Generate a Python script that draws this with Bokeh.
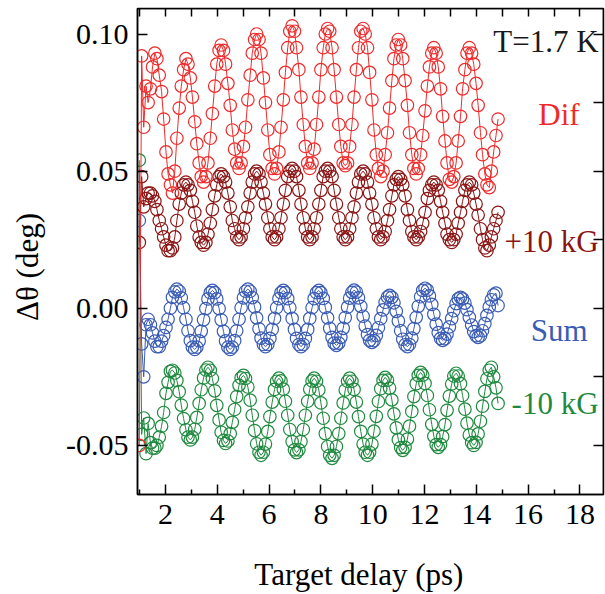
from bokeh.plotting import figure
from bokeh.models import Range1d, LinearAxis, FixedTicker, PrintfTickFormatter, Label
from bokeh.embed import file_html
from bokeh.resources import INLINE

# ---------------- data ----------------
delay = [
    0.99, 1.08, 1.16, 1.25, 1.33, 1.42, 1.50, 1.59, 1.67, 1.76, 1.85, 1.93, 2.02, 2.10, 2.19, 2.27,
    2.36, 2.44, 2.53, 2.61, 2.70, 2.79, 2.87, 2.96, 3.04, 3.13, 3.21, 3.30, 3.38, 3.47, 3.56, 3.64,
    3.73, 3.81, 3.90, 3.98, 4.07, 4.15, 4.24, 4.32, 4.41, 4.50, 4.58, 4.67, 4.75, 4.84, 4.92, 5.01,
    5.09, 5.18, 5.27, 5.35, 5.44, 5.52, 5.61, 5.69, 5.78, 5.86, 5.95, 6.03, 6.12, 6.21, 6.29, 6.38,
    6.46, 6.55, 6.63, 6.72, 6.80, 6.89, 6.98, 7.06, 7.15, 7.23, 7.32, 7.40, 7.49, 7.57, 7.66, 7.74,
    7.83, 7.92, 8.00, 8.09, 8.17, 8.26, 8.34, 8.43, 8.51, 8.60, 8.69, 8.77, 8.86, 8.94, 9.03, 9.11,
    9.20, 9.28, 9.37, 9.45, 9.54, 9.63, 9.71, 9.80, 9.88, 9.97, 10.05, 10.14, 10.22, 10.31, 10.40, 10.48,
    10.57, 10.65, 10.74, 10.82, 10.91, 10.99, 11.08, 11.16, 11.25, 11.34, 11.42, 11.51, 11.59, 11.68, 11.76, 11.85,
    11.93, 12.02, 12.11, 12.19, 12.28, 12.36, 12.45, 12.53, 12.62, 12.70, 12.79, 12.87, 12.96, 13.05, 13.13, 13.22,
    13.30, 13.39, 13.47, 13.56, 13.64, 13.73, 13.82, 13.90, 13.99, 14.07, 14.16, 14.24, 14.33, 14.41, 14.50, 14.58,
    14.67, 14.76, 14.84,
]

dif = [
    -0.050, 0.092, 0.066, 0.081, 0.075, 0.080, 0.088, 0.093, 0.091, 0.085, 0.079, 0.069, 0.057, 0.049, 0.045, 0.042,
    0.050, 0.062, 0.073, 0.081, 0.087, 0.091, 0.089, 0.084, 0.077, 0.068, 0.060, 0.053, 0.048, 0.046, 0.048, 0.053,
    0.062, 0.071, 0.081, 0.089, 0.094, 0.096, 0.094, 0.089, 0.082, 0.074, 0.065, 0.058, 0.053, 0.051, 0.053, 0.059,
    0.066, 0.076, 0.085, 0.093, 0.098, 0.100, 0.098, 0.093, 0.084, 0.075, 0.065, 0.056, 0.051, 0.049, 0.051, 0.057,
    0.066, 0.076, 0.086, 0.095, 0.101, 0.103, 0.101, 0.095, 0.087, 0.077, 0.067, 0.059, 0.053, 0.051, 0.053, 0.058,
    0.067, 0.077, 0.087, 0.095, 0.100, 0.102, 0.101, 0.095, 0.087, 0.077, 0.067, 0.059, 0.053, 0.052, 0.053, 0.059,
    0.067, 0.077, 0.087, 0.095, 0.101, 0.102, 0.100, 0.095, 0.086, 0.076, 0.065, 0.056, 0.051, 0.048, 0.050, 0.056,
    0.064, 0.073, 0.083, 0.091, 0.096, 0.098, 0.096, 0.091, 0.083, 0.074, 0.064, 0.056, 0.051, 0.049, 0.051, 0.056,
    0.063, 0.072, 0.081, 0.088, 0.093, 0.095, 0.093, 0.088, 0.080, 0.070, 0.061, 0.053, 0.047, 0.046, 0.048, 0.053,
    0.061, 0.070, 0.080, 0.087, 0.093, 0.095, 0.093, 0.089, 0.082, 0.074, 0.064, 0.056, 0.049, 0.045, 0.044, 0.050,
    0.057, 0.063, 0.069,
]

plus10 = [
    0.024, 0.048, 0.037, 0.040, 0.042, 0.042, 0.041, 0.039, 0.036, 0.032, 0.029, 0.026, 0.023, 0.021, 0.021, 0.022,
    0.026, 0.032, 0.038, 0.042, 0.045, 0.046, 0.045, 0.043, 0.039, 0.035, 0.030, 0.026, 0.024, 0.023, 0.024, 0.027,
    0.031, 0.036, 0.041, 0.045, 0.048, 0.049, 0.048, 0.046, 0.042, 0.037, 0.032, 0.029, 0.026, 0.025, 0.026, 0.029,
    0.033, 0.037, 0.042, 0.046, 0.049, 0.050, 0.049, 0.046, 0.042, 0.038, 0.033, 0.029, 0.026, 0.025, 0.026, 0.029,
    0.033, 0.038, 0.043, 0.048, 0.050, 0.051, 0.050, 0.048, 0.043, 0.038, 0.033, 0.029, 0.026, 0.025, 0.026, 0.029,
    0.033, 0.038, 0.043, 0.048, 0.050, 0.051, 0.050, 0.048, 0.043, 0.038, 0.033, 0.029, 0.026, 0.025, 0.026, 0.029,
    0.033, 0.037, 0.042, 0.046, 0.049, 0.050, 0.049, 0.046, 0.042, 0.038, 0.033, 0.029, 0.026, 0.025, 0.026, 0.028,
    0.032, 0.036, 0.041, 0.045, 0.047, 0.048, 0.047, 0.045, 0.041, 0.036, 0.032, 0.028, 0.026, 0.025, 0.026, 0.028,
    0.031, 0.035, 0.040, 0.043, 0.045, 0.046, 0.045, 0.043, 0.039, 0.035, 0.031, 0.027, 0.025, 0.024, 0.025, 0.027,
    0.031, 0.035, 0.039, 0.043, 0.045, 0.046, 0.045, 0.042, 0.038, 0.034, 0.029, 0.025, 0.022, 0.021, 0.023, 0.026,
    0.029, 0.032, 0.035,
]

sum_ = [
    0.0320, -0.0130, -0.0250, -0.0060, -0.0040, -0.0060, -0.0090, -0.0120, -0.0140, -0.0140, -0.0120, -0.0100, -0.0070, -0.0040, 0.0000, 0.0040,
    0.0060, 0.0070, 0.0062, 0.0038, 0.0002, -0.0040, -0.0082, -0.0118, -0.0142, -0.0150, -0.0142, -0.0119, -0.0084, -0.0042, -0.0001, 0.0034,
    0.0057, 0.0065, 0.0057, 0.0034, -0.0001, -0.0042, -0.0084, -0.0119, -0.0142, -0.0150, -0.0142, -0.0118, -0.0082, -0.0040, 0.0002, 0.0038,
    0.0062, 0.0070, 0.0062, 0.0039, 0.0005, -0.0035, -0.0075, -0.0109, -0.0132, -0.0140, -0.0132, -0.0110, -0.0077, -0.0037, 0.0002, 0.0035,
    0.0057, 0.0065, 0.0057, 0.0035, 0.0002, -0.0037, -0.0077, -0.0110, -0.0132, -0.0140, -0.0132, -0.0110, -0.0077, -0.0037, 0.0002, 0.0035,
    0.0057, 0.0065, 0.0057, 0.0036, 0.0003, -0.0035, -0.0073, -0.0106, -0.0127, -0.0135, -0.0127, -0.0106, -0.0073, -0.0034, 0.0004, 0.0037,
    0.0058, 0.0066, 0.0059, 0.0038, 0.0007, -0.0029, -0.0065, -0.0096, -0.0117, -0.0124, -0.0118, -0.0099, -0.0071, -0.0038, -0.0006, 0.0022,
    0.0041, 0.0047, 0.0040, 0.0020, -0.0011, -0.0046, -0.0082, -0.0113, -0.0133, -0.0140, -0.0132, -0.0109, -0.0074, -0.0033, 0.0007, 0.0042,
    0.0065, 0.0073, 0.0066, 0.0045, 0.0014, -0.0022, -0.0058, -0.0089, -0.0110, -0.0117, -0.0111, -0.0094, -0.0068, -0.0038, -0.0009, 0.0017,
    0.0034, 0.0040, 0.0034, 0.0019, -0.0005, -0.0033, -0.0061, -0.0085, -0.0100, -0.0106, -0.0100, -0.0082, -0.0056, -0.0026, 0.0005, 0.0031,
    0.0049, 0.0055, 0.0010,
]

minus10 = [
    0.0540, -0.0460, -0.0400, -0.0530, -0.0420, -0.0490, -0.0510, -0.0510, -0.0500, -0.0470, -0.0430, -0.0380, -0.0310, -0.0270, -0.0230, -0.0226,
    -0.0236, -0.0263, -0.0304, -0.0353, -0.0402, -0.0443, -0.0470, -0.0480, -0.0470, -0.0441, -0.0398, -0.0347, -0.0297, -0.0254, -0.0225, -0.0215,
    -0.0226, -0.0256, -0.0301, -0.0354, -0.0407, -0.0452, -0.0482, -0.0493, -0.0484, -0.0457, -0.0416, -0.0369, -0.0322, -0.0281, -0.0254, -0.0245,
    -0.0256, -0.0287, -0.0335, -0.0390, -0.0446, -0.0494, -0.0525, -0.0536, -0.0525, -0.0495, -0.0449, -0.0395, -0.0342, -0.0296, -0.0266, -0.0255,
    -0.0265, -0.0295, -0.0339, -0.0390, -0.0442, -0.0486, -0.0516, -0.0526, -0.0516, -0.0486, -0.0442, -0.0390, -0.0339, -0.0295, -0.0265, -0.0255,
    -0.0266, -0.0298, -0.0345, -0.0401, -0.0457, -0.0504, -0.0536, -0.0547, -0.0536, -0.0504, -0.0457, -0.0401, -0.0345, -0.0298, -0.0266, -0.0255,
    -0.0266, -0.0296, -0.0342, -0.0395, -0.0449, -0.0495, -0.0525, -0.0536, -0.0525, -0.0495, -0.0448, -0.0394, -0.0340, -0.0293, -0.0263, -0.0252,
    -0.0262, -0.0291, -0.0334, -0.0385, -0.0436, -0.0479, -0.0508, -0.0518, -0.0507, -0.0477, -0.0430, -0.0376, -0.0322, -0.0275, -0.0245, -0.0234,
    -0.0244, -0.0274, -0.0318, -0.0370, -0.0423, -0.0467, -0.0497, -0.0507, -0.0497, -0.0468, -0.0424, -0.0372, -0.0320, -0.0276, -0.0247, -0.0237,
    -0.0247, -0.0275, -0.0318, -0.0368, -0.0419, -0.0462, -0.0490, -0.0500, -0.0489, -0.0458, -0.0412, -0.0357, -0.0303, -0.0257, -0.0226, -0.0215,
    -0.0250, -0.0290, -0.0347,
]

x_major = [2, 4, 6, 8, 10, 12, 14, 16, 18]
x_minor = [1, 3, 5, 7, 9, 11, 13, 15, 17]
x_top = [1, 2, 3, 4, 5, 6, 7, 8, 9, 10, 11, 12, 13, 14, 15, 16, 17, 18]
y_left = [-0.05, 0.0, 0.05, 0.10]
y_right = [-0.05, -0.025, 0.0, 0.025, 0.05, 0.075, 0.10]

series = [
    ("-10 kG", minus10, "#1f8a3f"),
    ("+10 kG", plus10, "#8b1515"),
    ("Sum", sum_, "#3a5cb4"),
    ("Dif", dif, "#f02a2a"),
]

FONT = "Liberation Serif"
X0, X1 = 0.92, 18.91
Y0, Y1 = -0.0679, 0.1093

# ---------------- figure ----------------
p = figure(width=605, height=594, output_backend="svg", toolbar_location=None,
           x_range=Range1d(X0, X1), y_range=Range1d(Y0, Y1),
           x_axis_location=None, y_axis_location=None,
           min_border_left=137, min_border_right=2, min_border_top=8, min_border_bottom=99)
p.grid.visible = False
p.outline_line_color = "black"
p.outline_line_width = 1.5
p.background_fill_color = "white"
p.border_fill_color = "white"


def style_axis(ax, tick_len, labels=True):
    ax.axis_line_width = 1.5
    ax.axis_line_color = "black"
    ax.major_tick_in = tick_len
    ax.major_tick_out = 0
    ax.major_tick_line_width = 1.5
    ax.major_tick_line_color = "black"
    ax.minor_tick_in = 5
    ax.minor_tick_out = 0
    ax.minor_tick_line_width = 1.5
    ax.minor_tick_line_color = "black"
    if labels:
        ax.major_label_text_font = FONT
        ax.major_label_text_font_size = "30px"
        ax.major_label_text_color = "black"
        ax.axis_label_text_font = FONT
        ax.axis_label_text_font_size = "31px"
        ax.axis_label_text_font_style = "normal"
        ax.axis_label_text_color = "black"
    else:
        ax.major_label_text_font_size = "0px"
        ax.major_label_text_color = None
        ax.major_label_standoff = 0


NB = "\u00a0"

xb = LinearAxis(ticker=FixedTicker(ticks=x_major, minor_ticks=x_minor),
                axis_label="Target delay (ps)" + NB * 3)
style_axis(xb, 10)
xb.major_label_standoff = 10
xb.axis_label_standoff = 30
p.add_layout(xb, "below")

xt = LinearAxis(ticker=FixedTicker(ticks=x_top, minor_ticks=[]), fixed_location=Y1)
style_axis(xt, 8, labels=False)
p.add_layout(xt, "above")

yl = LinearAxis(ticker=FixedTicker(ticks=y_left, minor_ticks=[]),
                formatter=PrintfTickFormatter(format="%.2f"),
                axis_label="\u0394\u03b8 (deg)" + NB * 4)
style_axis(yl, 10)
yl.major_label_standoff = 9
yl.axis_label_standoff = 18
p.add_layout(yl, "left")

yr = LinearAxis(ticker=FixedTicker(ticks=y_right, minor_ticks=[]), fixed_location=X1)
style_axis(yr, 10, labels=False)
p.add_layout(yr, "right")

# ---------------- data ----------------
for name, vals, col in series:
    p.line(delay, vals, line_color=col, line_width=1.0)
    p.scatter(delay, vals, marker="circle", size=12.5, fill_color=None,
              line_color=col, line_width=1.2)

# ---------------- texts ----------------
def add_text(x, y, text, color, align="right"):
    p.add_layout(Label(x=x, y=y, text=text, text_color=color, text_font=FONT,
                       text_font_size="31px", text_align=align,
                       text_baseline="alphabetic"))

add_text(18.72, 0.0973, "T=1.7 K", "#1a1a1a")
add_text(17.19, 0.0707, "Dif", "#f02a2a", align="center")
add_text(18.72, 0.0245, "+10 kG", "#8b1515")
add_text(17.20, -0.0082, "Sum", "#3a5cb4", align="center")
add_text(18.72, -0.0348, "-10 kG", "#1f8a3f")

open("out.html", "w").write(file_html(p, INLINE))
